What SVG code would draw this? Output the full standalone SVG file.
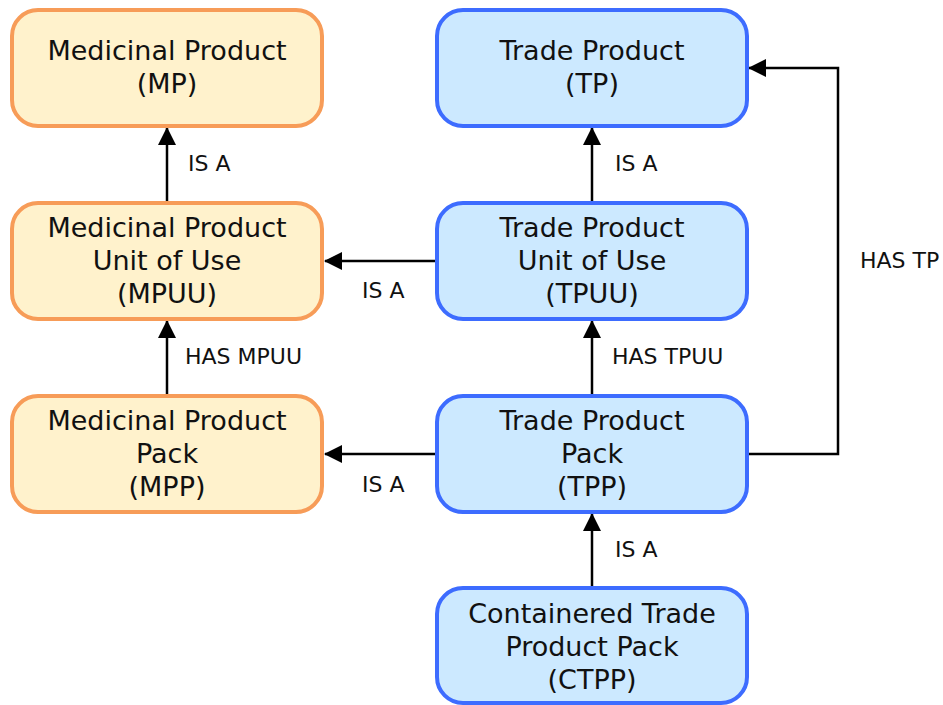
<svg xmlns="http://www.w3.org/2000/svg" width="943" height="705" viewBox="0 0 943 705">
  <style>
    .mp { fill: #FFF2CC; stroke: #F79C58; stroke-width: 4; }
    .tp { fill: #CCE9FF; stroke: #3D6CFF; stroke-width: 4; }
    .nt { font-family: "DejaVu Sans", Verdana, sans-serif; font-size: 27px; fill: #111; text-anchor: middle; }
    .lb { font-family: "DejaVu Sans", Verdana, sans-serif; font-size: 22px; fill: #111; }
    .cn { fill: none; stroke: #000; stroke-width: 2.5; }
  </style>
  <defs>
    <marker id="arrow" markerUnits="userSpaceOnUse" markerWidth="18" markerHeight="18" viewBox="0 0 18 18" refX="17" refY="9" orient="auto">
      <path d="M0,0 L18,9 L0,18 Z" fill="#000"/>
    </marker>
  </defs>
  <rect width="943" height="705" fill="#fff"/>

  <!-- connectors -->
  <g id="connectors">
    <path class="cn" d="M167,203 V128" marker-end="url(#arrow)"/>
    <path class="cn" d="M167,396 V321" marker-end="url(#arrow)"/>
    <path class="cn" d="M592,203 V128" marker-end="url(#arrow)"/>
    <path class="cn" d="M592,396 V321" marker-end="url(#arrow)"/>
    <path class="cn" d="M592,588 V514" marker-end="url(#arrow)"/>
    <path class="cn" d="M437,261 H325" marker-end="url(#arrow)"/>
    <path class="cn" d="M437,454 H325" marker-end="url(#arrow)"/>
    <path class="cn" d="M747,454 H838 V68 H749" marker-end="url(#arrow)"/>
    <text class="lb" x="188" y="171">IS A</text>
    <text class="lb" x="185" y="364">HAS MPUU</text>
    <text class="lb" x="362" y="298">IS A</text>
    <text class="lb" x="362" y="492">IS A</text>
    <text class="lb" x="615" y="171">IS A</text>
    <text class="lb" x="612" y="364">HAS TPUU</text>
    <text class="lb" x="615" y="557">IS A</text>
    <text class="lb" x="860" y="268">HAS TP</text>
  </g>

  <g id="MP">
    <rect class="mp" x="12" y="10" width="310" height="116" rx="26"/>
    <text class="nt" x="167" y="60">Medicinal Product</text>
    <text class="nt" x="167" y="93">(MP)</text>
  </g>
  <g id="MPUU">
    <rect class="mp" x="12" y="203" width="310" height="116" rx="26"/>
    <text class="nt" x="167" y="237">Medicinal Product</text>
    <text class="nt" x="167" y="270">Unit of Use</text>
    <text class="nt" x="167" y="303">(MPUU)</text>
  </g>
  <g id="MPP">
    <rect class="mp" x="12" y="396" width="310" height="116" rx="26"/>
    <text class="nt" x="167" y="430">Medicinal Product</text>
    <text class="nt" x="167" y="463">Pack</text>
    <text class="nt" x="167" y="496">(MPP)</text>
  </g>
  <g id="TP">
    <rect class="tp" x="437" y="10" width="310" height="116" rx="26"/>
    <text class="nt" x="592" y="60">Trade Product</text>
    <text class="nt" x="592" y="93">(TP)</text>
  </g>
  <g id="TPUU">
    <rect class="tp" x="437" y="203" width="310" height="116" rx="26"/>
    <text class="nt" x="592" y="237">Trade Product</text>
    <text class="nt" x="592" y="270">Unit of Use</text>
    <text class="nt" x="592" y="303">(TPUU)</text>
  </g>
  <g id="TPP">
    <rect class="tp" x="437" y="396" width="310" height="116" rx="26"/>
    <text class="nt" x="592" y="430">Trade Product</text>
    <text class="nt" x="592" y="463">Pack</text>
    <text class="nt" x="592" y="496">(TPP)</text>
  </g>
  <g id="CTPP">
    <rect class="tp" x="437" y="588" width="310" height="115" rx="26"/>
    <text class="nt" x="592" y="623">Containered Trade</text>
    <text class="nt" x="592" y="656">Product Pack</text>
    <text class="nt" x="592" y="689">(CTPP)</text>
  </g>
</svg>
